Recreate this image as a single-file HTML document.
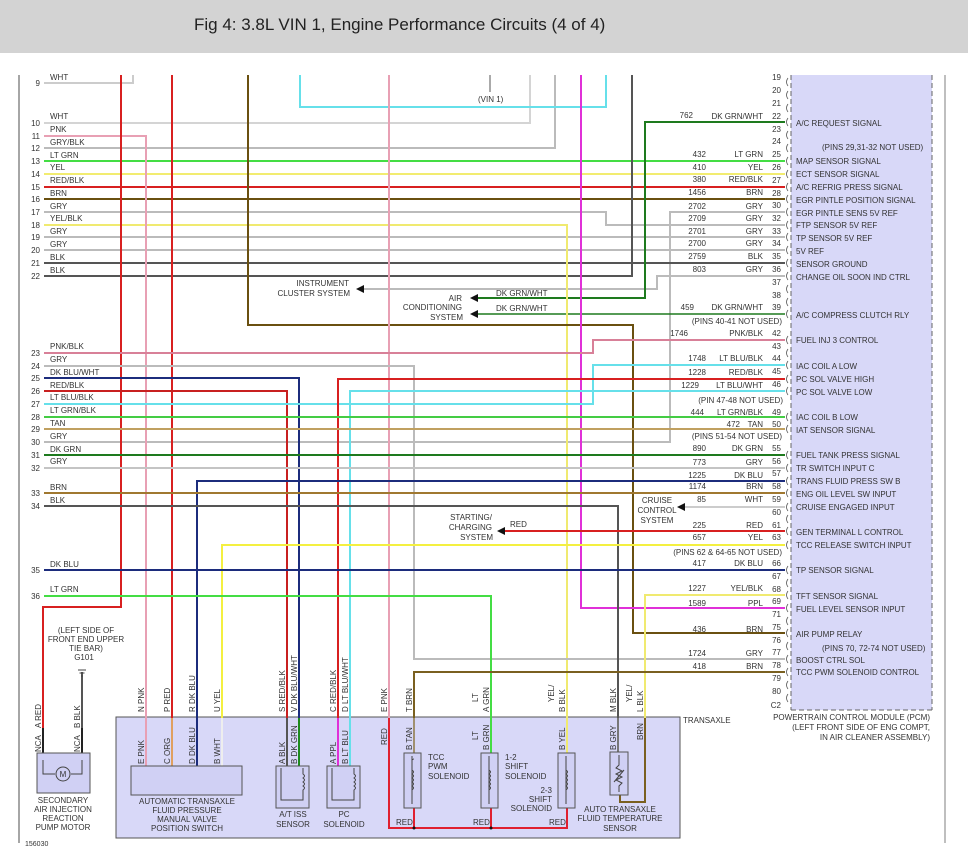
<!DOCTYPE html>
<html><head><meta charset="utf-8"><style>
html,body{margin:0;padding:0;background:#fff;width:968px;height:860px;overflow:hidden}
svg{display:block}
text{font-family:"Liberation Sans",sans-serif;font-size:8px;fill:#333}
</style></head><body>
<svg width="968" height="860" viewBox="0 0 968 860" xmlns="http://www.w3.org/2000/svg">
<rect x="0" y="0" width="968" height="53" fill="#d3d3d3"/>
<text x="194" y="30" style="font-size:17px;fill:#222">Fig 4: 3.8L VIN 1, Engine Performance Circuits (4 of 4)</text>
<line x1="19" y1="75" x2="19" y2="843" stroke="#888" stroke-width="1.5"/>
<line x1="945" y1="75" x2="945" y2="843" stroke="#aaa" stroke-width="1.5"/>
<!-- PCM -->
<rect x="791" y="75" width="141" height="635" fill="#d8d8f8"/>
<line x1="791" y1="75" x2="791" y2="710" stroke="#666" stroke-dasharray="5,3"/>
<line x1="932" y1="75" x2="932" y2="710" stroke="#666" stroke-dasharray="5,3"/>
<line x1="791" y1="710" x2="932" y2="710" stroke="#666" stroke-dasharray="5,3"/>
<!-- Transaxle box -->
<rect x="116" y="717" width="564" height="121" fill="#d8d8f8" stroke="#555"/>
<g fill="none" stroke-width="2" stroke-linejoin="miter">
<polyline points="44,83 133,83 133,75" stroke="#ccc"/>
<polyline points="44,123 530,123 530,75" stroke="#d4d4d4"/>
<polyline points="44,148 555,148 555,75" stroke="#bbb"/>
<line x1="490" y1="75" x2="490" y2="92" stroke="#aaa"/>
<polyline points="300,75 300,107 606,107 606,75" stroke="#66e0ea"/>
<polyline points="44,161 785,161" stroke="#44dd44"/>
<polyline points="44,174 785,174" stroke="#f2ec70"/>
<polyline points="44,187 785,187" stroke="#d82020"/>
<polyline points="44,199 785,199" stroke="#6a5010"/>
<polyline points="44,212 606,212 606,225 785,225" stroke="#bbb"/>
<polyline points="785,212 670,212 670,442 44,442" stroke="#bbb"/>
<polyline points="44,237 785,237" stroke="#bbb"/>
<polyline points="44,250 785,250" stroke="#bbb"/>
<polyline points="44,263 785,263" stroke="#555"/>
<polyline points="44,276 632,276 632,75" stroke="#555"/>
<polyline points="785,276 657,276 657,289 363,289" stroke="#bbb"/>
<polyline points="785,122 645,122 645,298 478,298" stroke="#1e7a1e"/>
<polyline points="785,314 478,314" stroke="#1e7a1e" stroke-width="1.5"/>
<polyline points="44,225 567,225 567,718" stroke="#f0ea70"/>
<polyline points="44,136 146,136 146,718" stroke="#e8a0b4"/>
<polyline points="121,75 121,607 43,607 43,728" stroke="#d82020"/>
<polyline points="172,75 172,718" stroke="#d82020"/>
<polyline points="248,75 248,325 633,325 633,633 785,633" stroke="#6a5010"/>
<polyline points="389,75 389,718" stroke="#e8a0b4"/>
<polyline points="581,75 581,608 785,608" stroke="#e030d8"/>
<polyline points="44,353 593,353 593,340 785,340" stroke="#d88098"/>
<polyline points="44,366 414,366 414,659 785,659" stroke="#bbb"/>
<polyline points="44,378 299,378 299,718" stroke="#1c2c7c"/>
<polyline points="44,391 287,391 287,718" stroke="#c82020"/>
<polyline points="44,404 593,404 593,365 785,365" stroke="#66e0ea"/>
<polyline points="785,379 338,379 338,718" stroke="#d82020"/>
<polyline points="785,391 350,391 350,718" stroke="#66e0ea"/>
<polyline points="44,417 785,417" stroke="#44cc44"/>
<polyline points="44,429 785,429" stroke="#c0a060"/>
<polyline points="44,455 785,455" stroke="#1e7a1e"/>
<polyline points="44,468 785,468" stroke="#c4c4c4"/>
<polyline points="785,481 197,481 197,718" stroke="#1c2c7c"/>
<polyline points="44,493 785,493" stroke="#a07830"/>
<polyline points="44,506 618,506 618,718" stroke="#555"/>
<polyline points="785,507 685,507" stroke="#ccc"/>
<polyline points="785,531 505,531" stroke="#d82020"/>
<polyline points="785,545 222,545 222,718" stroke="#f4f040"/>
<polyline points="44,570 785,570" stroke="#1c2c7c"/>
<polyline points="44,596 491,596 491,718" stroke="#44dd44"/>
<polyline points="785,595 645,595 645,718" stroke="#f0ea70"/>
<polyline points="785,672 414,672 414,718" stroke="#7a6020"/>
<line x1="82" y1="672" x2="82" y2="728" stroke="#555"/>
<!-- inner transaxle wires -->
<line x1="146" y1="718" x2="146" y2="766" stroke="#e8a0b4"/>
<line x1="172" y1="718" x2="172" y2="766" stroke="#e0a060"/>
<line x1="197" y1="718" x2="197" y2="766" stroke="#1c2c7c"/>
<line x1="222" y1="718" x2="222" y2="766" stroke="#eee"/>
<line x1="287" y1="718" x2="287" y2="766" stroke="#555"/>
<line x1="299" y1="718" x2="299" y2="766" stroke="#1e8a1e"/>
<line x1="338" y1="718" x2="338" y2="766" stroke="#e030d8"/>
<line x1="350" y1="718" x2="350" y2="766" stroke="#66e0ea"/>
<line x1="414" y1="718" x2="414" y2="753" stroke="#a09070"/>
<line x1="491" y1="718" x2="491" y2="753" stroke="#44dd44"/>
<line x1="567" y1="718" x2="567" y2="753" stroke="#f0ea70"/>
<line x1="618" y1="718" x2="618" y2="752" stroke="#777"/>
<polyline points="645,718 645,802 620,802 620,795" stroke="#7a6020"/>
<polyline points="389,718 389,828 567,828 567,808" stroke="#e02030"/>
<line x1="414" y1="808" x2="414" y2="828" stroke="#e02030"/>
<line x1="491" y1="808" x2="491" y2="828" stroke="#e02030"/>
<line x1="43" y1="728" x2="43" y2="760" stroke="#222"/>
<line x1="82" y1="728" x2="82" y2="760" stroke="#222"/>
</g>
<!-- arrows -->
<g fill="#111">
<polygon points="356,289 364,285 364,293"/>
<polygon points="470,298 478,294 478,302"/>
<polygon points="470,314 478,310 478,318"/>
<polygon points="677,507 685,503 685,511"/>
<polygon points="497,531 505,527 505,535"/>
<circle cx="414" cy="828" r="1.5"/><circle cx="491" cy="828" r="1.5"/>
</g>
<!-- components -->
<g fill="#d0d0f4" stroke="#555">
<rect x="37" y="753" width="53" height="40"/>
<rect x="131" y="766" width="111" height="29"/>
<rect x="276" y="766" width="33" height="42"/>
<rect x="327" y="766" width="33" height="42"/>
<rect x="404" y="753" width="17" height="55"/>
<rect x="481" y="753" width="17" height="55"/>
<rect x="558" y="753" width="17" height="55"/>
<rect x="610" y="752" width="18" height="43"/>
</g>
<g fill="none" stroke="#444">
<polyline points="43,760 43,774 55,774"/><polyline points="82,760 82,774 71,774"/>
<circle cx="63" cy="774" r="7"/>
<path d="M281,768 V800 H303 V790 q3,-2 0,-4 q3,-2 0,-4 q3,-2 0,-4 q3,-2 0,-4 V768"/>
<path d="M332,768 V800 H354 V790 q3,-2 0,-4 q3,-2 0,-4 q3,-2 0,-4 q3,-2 0,-4 V768"/>
<path d="M412,756 V804 M412,760 q3,-2 0,0 M412,770 q3,2 0,4 q3,2 0,4 q3,2 0,4 q3,2 0,4 q3,2 0,4"/>
<path d="M489,756 V804 M489,770 q3,2 0,4 q3,2 0,4 q3,2 0,4 q3,2 0,4 q3,2 0,4"/>
<path d="M566,756 V804 M566,770 q3,2 0,4 q3,2 0,4 q3,2 0,4 q3,2 0,4 q3,2 0,4"/>
<path d="M619,755 V765 l-3,3 6,3 -6,3 6,3 -6,3 6,3 -3,3 V792 M614,782 l10,-12"/>
<path d="M78,670 h8 M79.5,673 h5 M81,676 h2"/>
</g>
<text x="63" y="777" text-anchor="middle" style="font-size:8px">M</text>
<!-- left row labels -->
<g text-anchor="end">
<text x="40" y="86">9</text><text x="40" y="126">10</text><text x="40" y="139">11</text><text x="40" y="151">12</text><text x="40" y="164">13</text><text x="40" y="177">14</text><text x="40" y="190">15</text><text x="40" y="202">16</text><text x="40" y="215">17</text><text x="40" y="228">18</text><text x="40" y="240">19</text><text x="40" y="253">20</text><text x="40" y="266">21</text><text x="40" y="279">22</text>
<text x="40" y="356">23</text><text x="40" y="369">24</text><text x="40" y="381">25</text><text x="40" y="394">26</text><text x="40" y="407">27</text><text x="40" y="420">28</text><text x="40" y="432">29</text><text x="40" y="445">30</text><text x="40" y="458">31</text><text x="40" y="471">32</text><text x="40" y="496">33</text><text x="40" y="509">34</text><text x="40" y="573">35</text><text x="40" y="599">36</text>
</g>
<g>
<text x="50" y="80">WHT</text><text x="50" y="119">WHT</text><text x="50" y="132">PNK</text><text x="50" y="145">GRY/BLK</text><text x="50" y="158">LT GRN</text><text x="50" y="170">YEL</text><text x="50" y="183">RED/BLK</text><text x="50" y="196">BRN</text><text x="50" y="209">GRY</text><text x="50" y="221">YEL/BLK</text><text x="50" y="234">GRY</text><text x="50" y="247">GRY</text><text x="50" y="260">BLK</text><text x="50" y="273">BLK</text>
<text x="50" y="349">PNK/BLK</text><text x="50" y="362">GRY</text><text x="50" y="375">DK BLU/WHT</text><text x="50" y="388">RED/BLK</text><text x="50" y="400">LT BLU/BLK</text><text x="50" y="413">LT GRN/BLK</text><text x="50" y="426">TAN</text><text x="50" y="439">GRY</text><text x="50" y="452">DK GRN</text><text x="50" y="464">GRY</text><text x="50" y="490">BRN</text><text x="50" y="503">BLK</text><text x="50" y="567">DK BLU</text><text x="50" y="592">LT GRN</text>
<text x="478" y="102">(VIN 1)</text>
<text x="496" y="296">DK GRN/WHT</text><text x="496" y="311">DK GRN/WHT</text>
<text x="510" y="527">RED</text>
</g>
<g text-anchor="end">
<text x="349" y="286">INSTRUMENT</text><text x="350" y="296">CLUSTER SYSTEM</text>
<text x="462" y="301">AIR</text><text x="462" y="310">CONDITIONING</text><text x="463" y="320">SYSTEM</text>
<text x="492" y="520">STARTING/</text><text x="492" y="530">CHARGING</text><text x="493" y="540">SYSTEM</text>
</g>
<g text-anchor="middle">
<text x="657" y="503">CRUISE</text><text x="657" y="513">CONTROL</text><text x="657" y="523">SYSTEM</text>
<text x="86" y="633">(LEFT SIDE OF</text><text x="86" y="642">FRONT END UPPER</text><text x="86" y="651">TIE BAR)</text><text x="84" y="660">G101</text>
<text x="63" y="803">SECONDARY</text><text x="63" y="812">AIR INJECTION</text><text x="63" y="821">REACTION</text><text x="63" y="830">PUMP MOTOR</text>
<text x="187" y="804">AUTOMATIC TRANSAXLE</text><text x="187" y="813">FLUID PRESSURE</text><text x="187" y="822">MANUAL VALVE</text><text x="187" y="831">POSITION SWITCH</text>
<text x="293" y="817">A/T ISS</text><text x="293" y="827">SENSOR</text>
<text x="344" y="817">PC</text><text x="344" y="827">SOLENOID</text>
<text x="620" y="812">AUTO TRANSAXLE</text><text x="620" y="821">FLUID TEMPERATURE</text><text x="620" y="831">SENSOR</text>
</g>
<text x="428" y="760">TCC</text><text x="428" y="769">PWM</text><text x="428" y="779">SOLENOID</text>
<text x="505" y="760">1-2</text><text x="505" y="769">SHIFT</text><text x="505" y="779">SOLENOID</text>
<g text-anchor="end"><text x="552" y="793">2-3</text><text x="552" y="802">SHIFT</text><text x="552" y="811">SOLENOID</text></g>
<text x="396" y="825">RED</text><text x="473" y="825">RED</text><text x="549" y="825">RED</text>
<text x="683" y="723">TRANSAXLE</text>
<text x="25" y="846" style="font-size:7px">156030</text>
<g text-anchor="end">
<text x="930" y="720">POWERTRAIN CONTROL MODULE (PCM)</text>
<text x="930" y="730">(LEFT FRONT SIDE OF ENG COMPT,</text>
<text x="930" y="740">IN AIR CLEANER ASSEMBLY)</text>
</g>
<!-- rotated pin labels -->
<g>
<text transform="translate(41,728) rotate(-90)">A   RED</text>
<text transform="translate(80,728) rotate(-90)">B   BLK</text>
<text transform="translate(144,712) rotate(-90)">N  PNK</text>
<text transform="translate(170,712) rotate(-90)">P  RED</text>
<text transform="translate(195,712) rotate(-90)">R  DK BLU</text>
<text transform="translate(220,712) rotate(-90)">U  YEL</text>
<text transform="translate(285,712) rotate(-90)">S  RED/BLK</text>
<text transform="translate(297,712) rotate(-90)">V  DK BLU/WHT</text>
<text transform="translate(336,712) rotate(-90)">C  RED/BLK</text>
<text transform="translate(348,712) rotate(-90)">D  LT BLU/WHT</text>
<text transform="translate(387,712) rotate(-90)">E    PNK</text>
<text transform="translate(412,712) rotate(-90)">T    BRN</text>
<text transform="translate(489,712) rotate(-90)">A GRN</text>
<text transform="translate(478,702) rotate(-90)">LT</text>
<text transform="translate(565,712) rotate(-90)">B  BLK</text>
<text transform="translate(554,702) rotate(-90)">YEL/</text>
<text transform="translate(616,712) rotate(-90)">M   BLK</text>
<text transform="translate(643,712) rotate(-90)">L  BLK</text>
<text transform="translate(632,702) rotate(-90)">YEL/</text>
<text transform="translate(41,752) rotate(-90)">NCA</text>
<text transform="translate(80,752) rotate(-90)">NCA</text>
<text transform="translate(144,764) rotate(-90)">E PNK</text>
<text transform="translate(170,764) rotate(-90)">C ORG</text>
<text transform="translate(195,764) rotate(-90)">D DK BLU</text>
<text transform="translate(220,764) rotate(-90)">B WHT</text>
<text transform="translate(285,764) rotate(-90)">A BLK</text>
<text transform="translate(297,764) rotate(-90)">B DK GRN</text>
<text transform="translate(336,764) rotate(-90)">A PPL</text>
<text transform="translate(348,764) rotate(-90)">B LT BLU</text>
<text transform="translate(387,745) rotate(-90)">RED</text>
<text transform="translate(412,750) rotate(-90)">B   TAN</text>
<text transform="translate(489,750) rotate(-90)">B  GRN</text>
<text transform="translate(478,740) rotate(-90)">LT</text>
<text transform="translate(565,750) rotate(-90)">B   YEL</text>
<text transform="translate(616,750) rotate(-90)">B  GRY</text>
<text transform="translate(643,740) rotate(-90)">BRN</text>
</g>
<!-- PCM pin numbers -->
<g text-anchor="end">
<text x="781" y="80">19</text><text x="781" y="93">20</text><text x="781" y="106">21</text><text x="781" y="119">22</text><text x="781" y="132">23</text><text x="781" y="144">24</text><text x="781" y="157">25</text><text x="781" y="170">26</text><text x="781" y="183">27</text><text x="781" y="196">28</text><text x="781" y="208">30</text><text x="781" y="221">32</text><text x="781" y="234">33</text><text x="781" y="246">34</text><text x="781" y="259">35</text><text x="781" y="272">36</text><text x="781" y="285">37</text><text x="781" y="298">38</text><text x="781" y="310">39</text><text x="781" y="336">42</text><text x="781" y="349">43</text><text x="781" y="361">44</text><text x="781" y="374">45</text><text x="781" y="387">46</text><text x="781" y="415">49</text><text x="781" y="427">50</text><text x="781" y="451">55</text><text x="781" y="464">56</text><text x="781" y="476">57</text><text x="781" y="489">58</text><text x="781" y="502">59</text><text x="781" y="515">60</text><text x="781" y="528">61</text><text x="781" y="540">63</text><text x="781" y="566">66</text><text x="781" y="579">67</text><text x="781" y="592">68</text><text x="781" y="604">69</text><text x="781" y="617">71</text><text x="781" y="630">75</text><text x="781" y="643">76</text><text x="781" y="655">77</text><text x="781" y="668">78</text><text x="781" y="681">79</text><text x="781" y="694">80</text><text x="781" y="708">C2</text>
</g>
<g fill="none" stroke="#555" stroke-width="0.8">
<path d="M788,78 q-3,4 0,8 M788,91 q-3,4 0,8 M788,104 q-3,4 0,8 M788,118 q-3,4 0,8 M788,131 q-3,4 0,8 M788,144 q-3,4 0,8 M788,157 q-3,4 0,8 M788,170 q-3,4 0,8 M788,183 q-3,4 0,8 M788,195 q-3,4 0,8 M788,208 q-3,4 0,8 M788,221 q-3,4 0,8 M788,233 q-3,4 0,8 M788,246 q-3,4 0,8 M788,259 q-3,4 0,8 M788,272 q-3,4 0,8 M788,285 q-3,4 0,8 M788,298 q-3,4 0,8 M788,310 q-3,4 0,8 M788,336 q-3,4 0,8 M788,349 q-3,4 0,8 M788,361 q-3,4 0,8 M788,375 q-3,4 0,8 M788,387 q-3,4 0,8 M788,413 q-3,4 0,8 M788,425 q-3,4 0,8 M788,451 q-3,4 0,8 M788,464 q-3,4 0,8 M788,477 q-3,4 0,8 M788,489 q-3,4 0,8 M788,503 q-3,4 0,8 M788,515 q-3,4 0,8 M788,527 q-3,4 0,8 M788,541 q-3,4 0,8 M788,566 q-3,4 0,8 M788,579 q-3,4 0,8 M788,591 q-3,4 0,8 M788,604 q-3,4 0,8 M788,617 q-3,4 0,8 M788,629 q-3,4 0,8 M788,642 q-3,4 0,8 M788,655 q-3,4 0,8 M788,668 q-3,4 0,8 M788,681 q-3,4 0,8 M788,694 q-3,4 0,8"/>
</g>
<!-- wire numbers/colors -->
<g text-anchor="end">
<text x="693" y="118">762</text><text x="763" y="119">DK GRN/WHT</text>
<text x="706" y="157">432</text><text x="763" y="157">LT GRN</text>
<text x="706" y="170">410</text><text x="763" y="170">YEL</text>
<text x="706" y="182">380</text><text x="763" y="182">RED/BLK</text>
<text x="706" y="195">1456</text><text x="763" y="195">BRN</text>
<text x="706" y="209">2702</text><text x="763" y="209">GRY</text>
<text x="706" y="221">2709</text><text x="763" y="221">GRY</text>
<text x="706" y="234">2701</text><text x="763" y="234">GRY</text>
<text x="706" y="246">2700</text><text x="763" y="246">GRY</text>
<text x="706" y="259">2759</text><text x="763" y="259">BLK</text>
<text x="706" y="272">803</text><text x="763" y="272">GRY</text>
<text x="694" y="310">459</text><text x="763" y="310">DK GRN/WHT</text>
<text x="782" y="324">(PINS 40-41 NOT USED)</text>
<text x="688" y="336">1746</text><text x="763" y="336">PNK/BLK</text>
<text x="706" y="361">1748</text><text x="763" y="361">LT BLU/BLK</text>
<text x="706" y="375">1228</text><text x="763" y="375">RED/BLK</text>
<text x="699" y="388">1229</text><text x="763" y="388">LT BLU/WHT</text>
<text x="783" y="403">(PIN 47-48 NOT USED)</text>
<text x="704" y="415">444</text><text x="763" y="415">LT GRN/BLK</text>
<text x="740" y="427">472</text><text x="763" y="427">TAN</text>
<text x="782" y="439">(PINS 51-54 NOT USED)</text>
<text x="706" y="451">890</text><text x="763" y="451">DK GRN</text>
<text x="706" y="465">773</text><text x="763" y="465">GRY</text>
<text x="706" y="478">1225</text><text x="763" y="478">DK BLU</text>
<text x="706" y="489">1174</text><text x="763" y="489">BRN</text>
<text x="706" y="502">85</text><text x="763" y="502">WHT</text>
<text x="706" y="528">225</text><text x="763" y="528">RED</text>
<text x="706" y="540">657</text><text x="763" y="540">YEL</text>
<text x="782" y="555">(PINS 62 &amp; 64-65 NOT USED)</text>
<text x="706" y="566">417</text><text x="763" y="566">DK BLU</text>
<text x="706" y="591">1227</text><text x="763" y="591">YEL/BLK</text>
<text x="706" y="606">1589</text><text x="763" y="606">PPL</text>
<text x="706" y="632">436</text><text x="763" y="632">BRN</text>
<text x="706" y="656">1724</text><text x="763" y="656">GRY</text>
<text x="706" y="669">418</text><text x="763" y="669">BRN</text>
</g>
<!-- PCM function labels -->
<g>
<text x="796" y="126">A/C REQUEST SIGNAL</text>
<text x="822" y="150">(PINS 29,31-32 NOT USED)</text>
<text x="796" y="164">MAP SENSOR SIGNAL</text>
<text x="796" y="177">ECT SENSOR SIGNAL</text>
<text x="796" y="190">A/C REFRIG PRESS SIGNAL</text>
<text x="796" y="203">EGR PINTLE POSITION SIGNAL</text>
<text x="796" y="216">EGR PINTLE SENS 5V REF</text>
<text x="796" y="228">FTP SENSOR 5V REF</text>
<text x="796" y="241">TP SENSOR 5V REF</text>
<text x="796" y="254">5V REF</text>
<text x="796" y="267">SENSOR GROUND</text>
<text x="796" y="280">CHANGE OIL SOON IND CTRL</text>
<text x="796" y="318">A/C COMPRESS CLUTCH RLY</text>
<text x="796" y="343">FUEL INJ 3 CONTROL</text>
<text x="796" y="369">IAC COIL A LOW</text>
<text x="796" y="382">PC SOL VALVE HIGH</text>
<text x="796" y="395">PC SOL VALVE LOW</text>
<text x="796" y="420">IAC COIL B LOW</text>
<text x="796" y="433">IAT SENSOR SIGNAL</text>
<text x="796" y="458">FUEL TANK PRESS SIGNAL</text>
<text x="796" y="471">TR SWITCH INPUT C</text>
<text x="796" y="484">TRANS FLUID PRESS SW B</text>
<text x="796" y="497">ENG OIL LEVEL SW INPUT</text>
<text x="796" y="510">CRUISE ENGAGED INPUT</text>
<text x="796" y="535">GEN TERMINAL L CONTROL</text>
<text x="796" y="548">TCC RELEASE SWITCH INPUT</text>
<text x="796" y="573">TP SENSOR SIGNAL</text>
<text x="796" y="599">TFT SENSOR SIGNAL</text>
<text x="796" y="612">FUEL LEVEL SENSOR INPUT</text>
<text x="796" y="637">AIR PUMP RELAY</text>
<text x="822" y="651">(PINS 70, 72-74 NOT USED)</text>
<text x="796" y="663">BOOST CTRL SOL</text>
<text x="796" y="675">TCC PWM SOLENOID CONTROL</text>
</g>
</svg>
</body></html>
